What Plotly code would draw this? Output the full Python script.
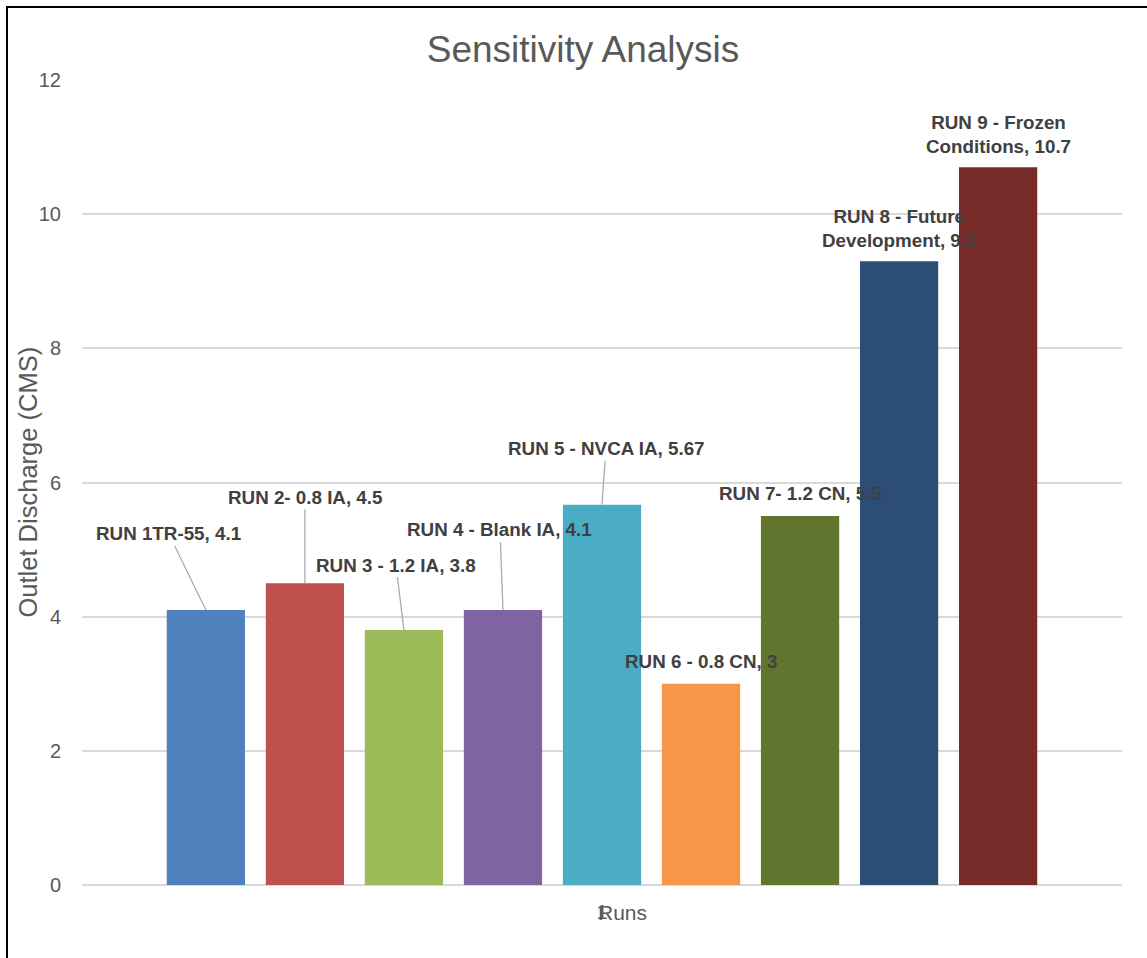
import plotly.graph_objects as go

# Run names and peak outlet discharge (CMS) for each sensitivity run
runs = [
    "RUN 1TR-55",
    "RUN 2- 0.8 IA",
    "RUN 3 - 1.2 IA",
    "RUN 4 - Blank IA",
    "RUN 5 - NVCA IA",
    "RUN 6 - 0.8 CN",
    "RUN 7- 1.2 CN",
    "RUN 8 - Future<br>Development",
    "RUN 9 - Frozen<br>Conditions",
]
discharge = [4.1, 4.5, 3.8, 4.1, 5.67, 3, 5.5, 9.3, 10.7]
value_text = ["4.1", "4.5", "3.8", "4.1", "5.67", "3", "5.5", "9.3", "10.7"]
category = ["1"]

colors = ["#4F81BD", "#C0504D", "#9BBB59", "#8064A2", "#4BACC6",
          "#F79646", "#62752F", "#2C4D75", "#772C2A"]

# label placement: pixel offset of each label from its bar top, and whether a leader line is drawn
label_dx = [-37, 0, -8, -3, 4, 0, 0, 0, 0]
label_dy = [-76, -86, -65, -80, -56, -22, -23, -33, -33]
leader = [True, True, True, True, True, False, False, False, False]

BARGAP = 0.143
GROUPGAP = 0.21
FONT = "Liberation Sans, Arial, sans-serif"

fig = go.Figure()
for name, val, col in zip(runs, discharge, colors):
    fig.add_trace(go.Bar(
        x=category, y=[val], name=name.replace("<br>", " "),
        marker=dict(color=col, line=dict(width=0)),
    ))

n = len(runs)
slot = (1 - BARGAP) / n
label_font = dict(family=FONT, size=18.8, color="#404040", weight="bold")
for i in range(n):
    xc = -(1 - BARGAP) / 2 + slot * (i + 0.5)
    txt = f"{runs[i]}, {value_text[i]}"
    if leader[i]:
        fig.add_annotation(
            x=xc, y=discharge[i], xref="x", yref="y", text=txt,
            showarrow=True, ax=label_dx[i], ay=label_dy[i],
            arrowhead=0, arrowwidth=1.2, arrowcolor="#A6A6A6", standoff=0,
            font=label_font, align="center",
        )
    else:
        fig.add_annotation(
            x=xc, y=discharge[i], xref="x", yref="y", text=txt,
            showarrow=False, yshift=-label_dy[i], yanchor="middle",
            font=label_font, align="center",
        )

# axis titles
fig.add_annotation(
    text="Runs", xref="paper", yref="paper", x=(622 - 82) / 1040, y=0,
    yshift=-27, xanchor="center", yanchor="middle", showarrow=False,
    font=dict(family=FONT, size=21, color="#595959"),
)
fig.add_annotation(
    text="Outlet Discharge (CMS)", xref="paper", yref="paper",
    x=(27 - 82) / 1040, y=0.5, xanchor="center", yanchor="middle",
    textangle=-90, showarrow=False,
    font=dict(family=FONT, size=25.5, color="#595959"),
)

# chart frame
fig.add_shape(type="rect", xref="paper", yref="paper",
              x0=(7 - 82) / 1040, x1=1.2, y0=-0.3, y1=1 + (80 - 7) / 805,
              line=dict(color="black", width=2), fillcolor="rgba(0,0,0,0)",
              layer="above")

fig.update_layout(
    width=1147, height=958,
    margin=dict(l=82, r=25, t=80, b=73),
    paper_bgcolor="white", plot_bgcolor="white",
    barmode="group", bargap=BARGAP, bargroupgap=GROUPGAP,
    showlegend=False,
    title=dict(text="Sensitivity Analysis", x=583 / 1147, xanchor="center",
               y=1 - 49 / 958, yanchor="middle",
               font=dict(family=FONT, size=37, color="#595959")),
    xaxis=dict(range=[-0.5, 0.5], showgrid=False, showline=False, zeroline=False,
               ticks="", ticklabelstandoff=13,
               tickfont=dict(family=FONT, size=20, color="#595959")),
    yaxis=dict(range=[0, 12], tickvals=[0, 2, 4, 6, 8, 10, 12],
               showgrid=True, gridcolor="#D9D9D9", gridwidth=1.5,
               zeroline=True, zerolinecolor="#D9D9D9", zerolinewidth=1.5,
               showline=False, ticks="", ticklabelstandoff=20,
               tickfont=dict(family=FONT, size=20, color="#595959")),
)

fig.write_html("out.html")
